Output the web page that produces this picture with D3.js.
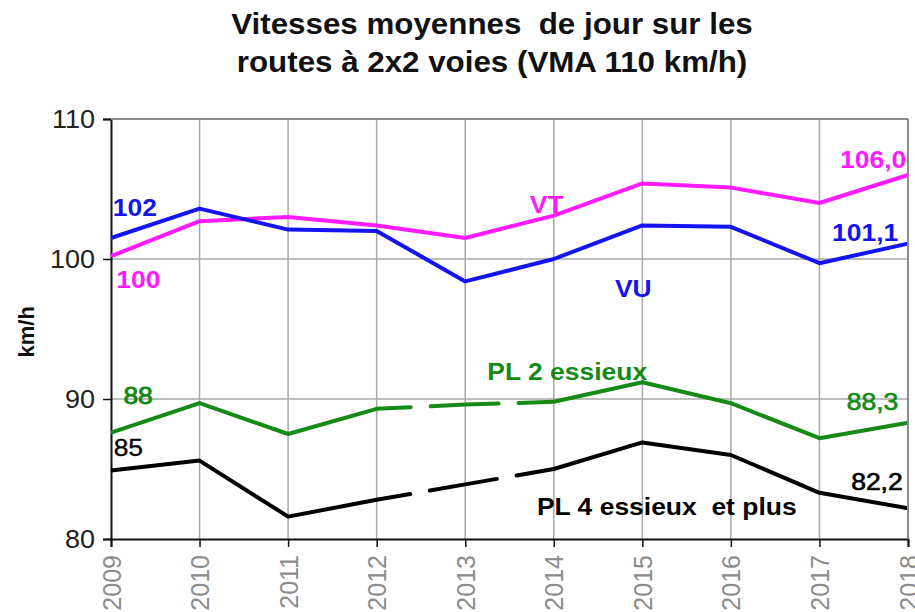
<!DOCTYPE html>
<html>
<head>
<meta charset="utf-8">
<script src="https://cdn.jsdelivr.net/npm/d3@7"></script>
<style>
  body { margin: 0; background: #fff; }
  svg text { font-family: "Liberation Sans", Arial, sans-serif; }
</style>
</head>
<body>
<div id="chart"></div>
<script>
const years = [2009, 2010, 2011, 2012, 2013, 2014, 2015, 2016, 2017, 2018];
const vt  = [100.2, 102.7, 103.0, 102.4, 101.5, 103.1, 105.4, 105.1, 104.0, 106.0];
const vu  = [101.5, 103.6, 102.1, 102.0, 98.4, 100.0, 102.4, 102.3, 99.7, 101.1];
const pl2 = [87.6, 89.7, 87.5, 89.3, 89.6, 89.8, 91.2, 89.7, 87.2, 88.3];
const pl4 = [84.9, 85.6, 81.6, 82.8, 83.9, 85.0, 86.9, 86.0, 83.3, 82.2];
const yTicks = [80, 90, 100, 110];
const dashedYears = [2012, 2014]; // PL segments drawn dashed

const series = [
  { name: "VT", values: vt, color: "#ff1aff", dashed: false },
  { name: "VU", values: vu, color: "#1414f0", dashed: false },
  { name: "PL 2 essieux", values: pl2, color: "#168a16", dashed: true },
  { name: "PL 4 essieux et plus", values: pl4, color: "#000000", dashed: true }
];

// annotation labels: anchor in data units (year, km/h); s = extra stroke for medium weight
const labels = [
  { t: "102", yr: 2009.02, v: 103.07, a: "start", c: "#1414f0", w: 700, s: 0 },
  { t: "100", yr: 2009.06, v: 97.93, a: "start", c: "#ff1aff", w: 700, s: 0 },
  { t: "VT", yr: 2013.73, v: 103.29, a: "start", c: "#ff1aff", w: 700, s: 0 },
  { t: "VU", yr: 2014.69, v: 97.29, a: "start", c: "#1414f0", w: 700, s: 0 },
  { t: "106,0", yr: 2017.98, v: 106.5, a: "end", c: "#ff1aff", w: 700, s: 0 },
  { t: "101,1", yr: 2017.89, v: 101.29, a: "end", c: "#1414f0", w: 700, s: 0 },
  { t: "PL 2 essieux", yr: 2013.25, v: 91.36, a: "start", c: "#168a16", w: 700, s: 0 },
  { t: "88", yr: 2009.14, v: 89.64, a: "start", c: "#168a16", w: 400, s: 0.9 },
  { t: "88,3", yr: 2017.89, v: 89.21, a: "end", c: "#168a16", w: 400, s: 0.7 },
  { t: "85", yr: 2009.03, v: 85.93, a: "start", c: "#000", w: 400, s: 0.3 },
  { t: "82,2", yr: 2017.94, v: 83.5, a: "end", c: "#000", w: 400, s: 0.7 },
  { t: "PL 4 essieux\u00a0 et plus", yr: 2013.81, v: 81.71, a: "start", c: "#000", w: 700, s: 0 }
];

const W = 915, H = 612;
const M = { top: 119, right: 7, bottom: 73, left: 111 };
const SX = 1.08; // source picture is slightly stretched horizontally

const svg = d3.select("#chart").append("svg").attr("width", W).attr("height", H);

const x = d3.scaleLinear().domain([2009, 2018]).range([M.left, W - M.right]);
const y = d3.scaleLinear().domain([80, 110]).range([H - M.bottom, M.top]);

// title
const titleLines = ["Vitesses moyennes\u00a0 de jour sur les", "routes à 2x2 voies (VMA 110 km/h)"];
svg.append("g").selectAll("text").data(titleLines).join("text")
  .attr("transform", (d, i) => `translate(492,${34 + i * 38}) scale(${SX},1)`)
  .attr("text-anchor", "middle")
  .style("font-size", "29px").style("font-weight", 700).style("fill", "#111")
  .text(d => d);

// grid
const grid = svg.append("g");
grid.selectAll(".vg").data(years.slice(1)).join("line")
  .attr("x1", d => x(d)).attr("x2", d => x(d)).attr("y1", y(110)).attr("y2", y(80))
  .attr("stroke", "#a8a8a8").attr("stroke-width", 1.5);
grid.selectAll(".hg").data(yTicks.slice(1)).join("line")
  .attr("x1", x(2009)).attr("x2", x(2018)).attr("y1", d => y(d)).attr("y2", d => y(d))
  .attr("stroke", "#a8a8a8").attr("stroke-width", 1.5);

// axes
const yAxis = svg.append("g").attr("transform", `translate(${M.left},0)`)
  .call(d3.axisLeft(y).tickValues(yTicks).tickSize(8).tickPadding(8).tickFormat(d3.format("d")));
yAxis.select(".domain").attr("stroke", "#111").attr("stroke-width", 2);
yAxis.selectAll(".tick line").attr("stroke", "#111").attr("stroke-width", 1.5);
yAxis.selectAll(".tick text").attr("x", null)
  .attr("transform", `translate(-16,0) scale(${SX},1)`)
  .style("font-size", "25px").style("fill", "#222")
  .style("font-family", "Liberation Sans, Arial, sans-serif");

const xAxis = svg.append("g").attr("transform", `translate(0,${H - M.bottom})`)
  .call(d3.axisBottom(x).tickValues(years).tickSize(8).tickFormat(d3.format("d")));
xAxis.select(".domain").attr("stroke", "#111").attr("stroke-width", 2);
xAxis.selectAll(".tick line").attr("stroke", "#111").attr("stroke-width", 1.5);
xAxis.selectAll(".tick text")
  .attr("transform", "rotate(-90)").attr("text-anchor", "end")
  .attr("x", -16).attr("y", 0).attr("dy", "0.36em")
  .style("font-size", "25px").style("fill", "#8c8c8c")
  .style("font-family", "Liberation Sans, Arial, sans-serif");

// y label
svg.append("text").attr("transform", `translate(34,${y(94.8)}) rotate(-90)`)
  .attr("text-anchor", "middle").style("font-size", "22px").style("font-weight", 700)
  .style("fill", "#111").text("km/h");

// lines
const line = d3.line().x(d => x(d.yr)).y(d => y(d.v));
const lg = svg.append("g");
series.forEach(s => {
  const pts = years.map((yr, i) => ({ yr, v: s.values[i] }));
  if (!s.dashed) {
    lg.append("path").datum(pts).attr("d", line).attr("fill", "none")
      .attr("stroke", s.color).attr("stroke-width", 4).attr("stroke-linejoin", "round");
    return;
  }
  const [d0, d1] = dashedYears;
  const a = pts.filter(p => p.yr <= d0), b = pts.filter(p => p.yr >= d1);
  const mid = pts.filter(p => p.yr >= d0 && p.yr <= d1);
  [a, b].forEach(seg => lg.append("path").datum(seg).attr("d", line).attr("fill", "none")
    .attr("stroke", s.color).attr("stroke-width", 4).attr("stroke-linejoin", "round"));
  lg.append("path").datum(mid).attr("d", line).attr("fill", "none")
    .attr("stroke", s.color).attr("stroke-width", 4).attr("stroke-linecap", "round")
    .attr("stroke-dasharray", "34,20,68,20,60");
});

// right/top frame
svg.append("line").attr("x1", x(2009)).attr("x2", x(2018)).attr("y1", y(110)).attr("y2", y(110))
  .attr("stroke", "#8c8c8c").attr("stroke-width", 2);
svg.append("line").attr("x1", x(2018)).attr("x2", x(2018)).attr("y1", y(110)).attr("y2", y(80))
  .attr("stroke", "#8c8c8c").attr("stroke-width", 2);

// labels
svg.append("g").selectAll("text").data(labels).join("text")
  .attr("transform", d => `translate(${x(d.yr)},${y(d.v)}) scale(${SX},1)`)
  .attr("text-anchor", d => d.a)
  .style("font-size", "24.5px").style("font-weight", d => d.w).style("fill", d => d.c)
  .style("stroke", d => d.s ? d.c : "none").style("stroke-width", d => d.s)
  .text(d => d.t);
</script>
</body>
</html>
